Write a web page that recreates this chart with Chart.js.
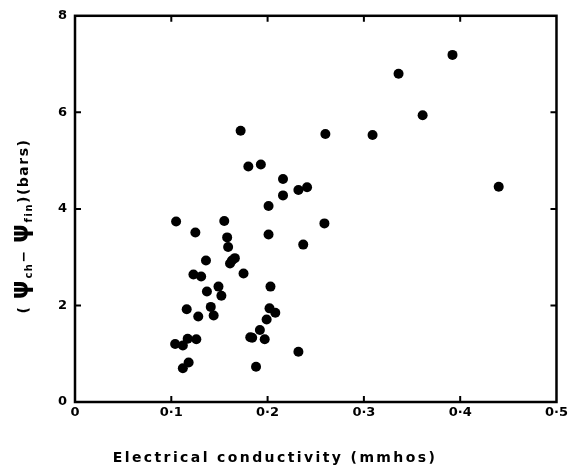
<!DOCTYPE html>
<html>
<head>
<meta charset="utf-8">
<script src="https://cdn.jsdelivr.net/npm/chart.js@4"></script>
<style>
  html, body { margin: 0; padding: 0; background: #fff; }
  canvas { display: block; }
</style>
</head>
<body>
<canvas id="c" width="571" height="472"></canvas>
<script>
// Electrical conductivity (mmhos)
const conductivity = [
  0.392, 0.336, 0.361, 0.309, 0.260, 0.172, 0.440, 0.180, 0.193, 0.216,
  0.216, 0.232, 0.241, 0.201, 0.201, 0.259, 0.237, 0.105, 0.125, 0.155,
  0.158, 0.159, 0.136, 0.166, 0.163, 0.161, 0.175, 0.123, 0.131, 0.137,
  0.149, 0.152, 0.203, 0.116, 0.141, 0.144, 0.128, 0.202, 0.208, 0.199,
  0.192, 0.184, 0.197, 0.232, 0.188, 0.104, 0.112, 0.117, 0.126, 0.118,
  0.112, 0.182
];
// psi_ch - psi_fin (bars)
const psiDiff = [
  7.19, 6.80, 5.94, 5.53, 5.55, 5.62, 4.46, 4.88, 4.92, 4.62,
  4.28, 4.39, 4.45, 4.06, 3.47, 3.70, 3.26, 3.74, 3.51, 3.75,
  3.41, 3.21, 2.93, 2.98, 2.93, 2.87, 2.66, 2.64, 2.60, 2.29,
  2.39, 2.20, 2.39, 1.92, 1.97, 1.79, 1.77, 1.94, 1.85, 1.71,
  1.49, 1.33, 1.30, 1.04, 0.73, 1.20, 1.17, 1.31, 1.30, 0.82,
  0.70, 1.34
];
const xTickValues = [0, 0.1, 0.2, 0.3, 0.4, 0.5];
const xTickLabels = ['0', '0·1', '0·2', '0·3', '0·4', '0·5'];
const yTickValues = [0, 2, 4, 6, 8];
const yTickLabels = ['0', '2', '4', '6', '8'];
const xTitle = 'Electrical conductivity (mmhos)';

const FONT = '"DejaVu Sans", "Liberation Sans", sans-serif';

const framePlugin = {
  id: 'frame',
  afterDraw(chart) {
    const ctx = chart.ctx;
    const a = chart.chartArea;
    const xs = chart.scales.x, ys = chart.scales.y;
    ctx.save();
    ctx.strokeStyle = '#000';
    ctx.lineWidth = 2.5;
    ctx.strokeRect(a.left, a.top, a.right - a.left, a.bottom - a.top);
    const tl = 6;
    ctx.lineWidth = 2;
    ctx.beginPath();
    xTickValues.slice(1, -1).forEach(v => {
      const px = xs.getPixelForValue(v);
      ctx.moveTo(px, a.bottom); ctx.lineTo(px, a.bottom - tl);
      ctx.moveTo(px, a.top); ctx.lineTo(px, a.top + tl);
    });
    yTickValues.slice(1, -1).forEach(v => {
      const py = ys.getPixelForValue(v);
      ctx.moveTo(a.left, py); ctx.lineTo(a.left + tl, py);
      ctx.moveTo(a.right, py); ctx.lineTo(a.right - tl, py);
    });
    ctx.stroke();

    // x title
    ctx.fillStyle = '#000';
    ctx.font = 'bold 14px ' + FONT;
    ctx.letterSpacing = '2.4px';
    ctx.textAlign = 'center';
    ctx.textBaseline = 'alphabetic';
    ctx.fillText(xTitle, 275, 462);

    // y title (rotated, with subscripts)
    ctx.translate(22, 226);
    ctx.rotate(-Math.PI / 2);
    ctx.textAlign = 'left';
    const parts = [
      { t: '( ', f: 'bold 14px ' + FONT, dy: 0 },
      { t: 'ψ', f: 'bold 24px ' + FONT, dy: 0 },
      { t: 'ch', f: 'bold 10px ' + FONT, dy: 4 },
      { t: '− ', f: 'bold 14px ' + FONT, dy: 0 },
      { t: 'ψ', f: 'bold 24px ' + FONT, dy: 0 },
      { t: 'fin', f: 'bold 10px ' + FONT, dy: 4 },
      { t: ')(bars)', f: 'bold 14px ' + FONT, dy: 0 }
    ];
    ctx.letterSpacing = '1.5px';
    let total = 0;
    parts.forEach(p => { ctx.font = p.f; p.w = ctx.measureText(p.t).width; total += p.w; });
    let x = -total / 2;
    parts.forEach(p => { ctx.font = p.f; ctx.fillText(p.t, x, 6 + p.dy); x += p.w; });
    ctx.restore();
  }
};

new Chart(document.getElementById('c'), {
  type: 'scatter',
  data: {
    datasets: [{
      data: conductivity.map((x, i) => ({ x: x, y: psiDiff[i] })),
      backgroundColor: '#000',
      borderWidth: 0,
      pointRadius: 5,
      pointHoverRadius: 5
    }]
  },
  options: {
    responsive: false,
    animation: false,
    devicePixelRatio: 1,
    layout: { padding: { left: 0, right: 13, top: 14, bottom: 0 } },
    plugins: { legend: { display: false }, tooltip: { enabled: false } },
    scales: {
      x: {
        type: 'linear', min: 0, max: 0.5,
        afterBuildTicks: s => { s.ticks = xTickValues.map(v => ({ value: v })); },
        ticks: {
          callback: (v, i) => xTickLabels[i],
          font: { family: FONT, size: 13, weight: 'bold' },
          color: '#000', padding: 3, maxRotation: 0, autoSkip: false
        },
        grid: { display: false, drawTicks: false },
        border: { display: false },
        afterFit: s => { s.height = 70; }
      },
      y: {
        type: 'linear', min: 0, max: 8,
        afterBuildTicks: s => { s.ticks = yTickValues.map(v => ({ value: v })); },
        ticks: {
          callback: (v, i) => yTickLabels[i],
          font: { family: FONT, size: 13, weight: 'bold' },
          color: '#000', padding: 8, autoSkip: false
        },
        grid: { display: false, drawTicks: false },
        border: { display: false },
        afterFit: s => { s.width = 75; }
      }
    }
  },
  plugins: [framePlugin]
});
</script>
</body>
</html>
